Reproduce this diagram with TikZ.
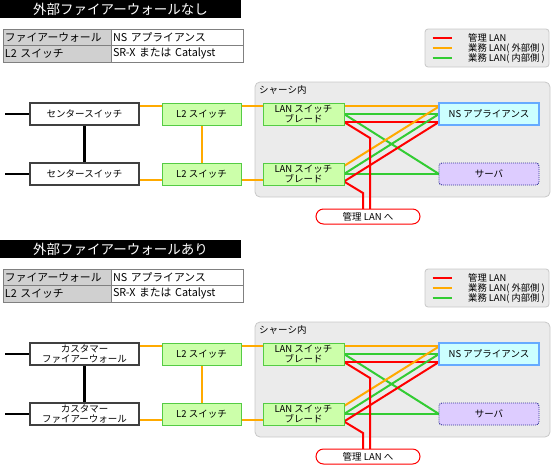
\documentclass[tikz,border=0pt]{standalone}
\usepackage{fontspec}
\setmainfont{Noto Sans CJK JP}
\usetikzlibrary{calc}
\pgfdeclarelayer{bg}
\pgfdeclarelayer{mid}
\pgfsetlayers{bg,mid,main}
\definecolor{lnorange}{HTML}{FFAA00}
\definecolor{lngreen}{HTML}{33CC33}
\definecolor{lnred}{HTML}{FF0000}
\definecolor{boxgreen}{HTML}{CCFFAA}
\definecolor{boxgreenb}{HTML}{55CC44}
\definecolor{chasfill}{HTML}{EBEBEB}
\definecolor{chasline}{HTML}{C8C8C8}
\definecolor{nsfill}{HTML}{CCFFFF}
\definecolor{nsline}{HTML}{66AAFF}
\definecolor{svfill}{HTML}{DDCCFF}
\definecolor{svline}{HTML}{333399}
\definecolor{cellgrey}{HTML}{D0D0D0}
\definecolor{cellline}{HTML}{808080}
\tikzset{
  fnt/.style={font=\fontsize{#1}{10}\selectfont},
  titlebar/.style={fill=black,text=white,minimum width=241pt,minimum height=18pt,inner sep=0pt,outer sep=0pt,fnt=13.5},
  cellL/.style={draw=cellline,fill=cellgrey,line width=0.8pt,text width=104pt,inner xsep=2pt,inner ysep=0pt,minimum height=16.5pt,align=left,outer sep=0pt,fnt=10.8},
  cellR/.style={draw=cellline,fill=white,line width=0.8pt,text width=128pt,inner xsep=2pt,inner ysep=0pt,minimum height=16.5pt,align=left,outer sep=0pt,fnt=10.8},
  legendbox/.style={draw=chasline,fill=chasfill,rounded corners=3pt,minimum width=124pt,minimum height=38pt,inner sep=0pt,line width=0.8pt},
  legtext/.style={anchor=west,inner sep=0pt,fnt=9.3},
  leftbox/.style={draw=black!75,fill=white,line width=1.3pt,minimum width=109pt,minimum height=22pt,inner sep=0pt,outer sep=0pt,align=center,fnt=9.5},
  greenbox/.style={draw=boxgreenb,fill=boxgreen,line width=1pt,minimum width=#1,minimum height=22pt,inner sep=0pt,outer sep=0pt,align=center,fnt=9.5},
  chassis/.style={draw=chasline,fill=chasfill,rounded corners=5pt,minimum width=295pt,minimum height=115pt,line width=0.8pt,inner sep=0pt},
  nsbox/.style={draw=nsline,fill=nsfill,line width=1.2pt,minimum width=100pt,minimum height=22pt,inner sep=0pt,outer sep=0pt,fnt=9.5},
  svbox/.style={draw=svline,fill=svfill,line width=0.9pt,dash pattern=on 1pt off 1pt,rounded corners=3pt,minimum width=100pt,minimum height=22pt,inner sep=0pt,outer sep=0pt,fnt=9.5},
  pill/.style={draw=lnred,fill=white,line width=1pt,rounded corners=7.5pt,minimum width=104pt,minimum height=15pt,inner sep=0pt,outer sep=0pt,fnt=9.5},
  oline/.style={draw=lnorange,line width=2pt},
  gline/.style={draw=lngreen,line width=2pt},
  rline/.style={draw=lnred,line width=2pt},
  kline/.style={draw=black,line width=2.4pt},
}
\newcommand\drawpart[4]{%
\begin{scope}[shift={(0,#2)}]
  \node[titlebar] (#1title) at (120.5,9) {#3};
  \node[cellL] (#1t11) at (57,37.25) {ファイアーウォール};
  \node[cellR] (#1t12) at (177,37.25) {NS アプライアンス};
  \node[cellL] (#1t21) at (57,53.75) {L2 スイッチ};
  \node[cellR] (#1t22) at (177,53.75) {SR-X または Catalyst};
  % legend
  \node[legendbox] (#1leg) at (487,48) {};
  \draw[rline] (432.5,38) -- (451.5,38);
  \draw[oline] (432.5,48) -- (451.5,48);
  \draw[gline] (432.5,58) -- (451.5,58);
  \node[legtext] (#1lg1) at (468,38) {管理 LAN};
  \node[legtext] (#1lg2) at (468,48) {業務 LAN( 外部側 )};
  \node[legtext] (#1lg3) at (468,58) {業務 LAN( 内部側 )};
  % chassis
  \begin{pgfonlayer}{bg}
    \node[chassis] (#1chas) at (402.5,139.5) {};
  \end{pgfonlayer}
  \node[anchor=west,inner sep=0pt,fnt=9.5] (#1chlab) at (259,90) {シャーシ内};
  % boxes
  \node[leftbox] (#1cs1) at (84.5,114) {#4};
  \node[leftbox] (#1cs2) at (84.5,174) {#4};
  \node[greenbox=79pt] (#1l2a) at (201.5,114) {L2 スイッチ};
  \node[greenbox=79pt] (#1l2b) at (201.5,174) {L2 スイッチ};
  \node[greenbox=81pt] (#1bla) at (303.5,114) {LAN スイッチ\\ブレード};
  \node[greenbox=81pt] (#1blb) at (303.5,174) {LAN スイッチ\\ブレード};
  \node[nsbox] (#1ns) at (489,114) {NS アプライアンス};
  \node[svbox] (#1sv) at (489,174) {サーバ};
  \node[pill] (#1pl) at (368,216.5) {管理 LAN へ};
  \coordinate (#1k1) at (370,138);
  \coordinate (#1k2) at (363,193);
  % connectors
  \begin{pgfonlayer}{mid}
    \draw[kline] (#1cs1.west) -- ++(-25,0) coordinate (#1e1);
    \draw[kline] (#1cs2.west) -- ++(-25,0) coordinate (#1e2);
    \draw[kline] (#1cs1.south) -- (#1cs2.north);
    \draw[oline] ([yshift=-3pt]#1cs1.north east) -- ([yshift=-3pt]#1l2a.north west);
    \draw[oline] ([yshift=5pt]#1cs2.south east) -- ([yshift=5pt]#1l2b.south west);
    \draw[oline] (#1l2a.south) -- (#1l2b.north);
    \draw[oline] ([yshift=-3pt]#1l2a.north east) -- ([yshift=-3pt]#1bla.north west);
    \draw[oline] ([yshift=5pt]#1l2b.south east) -- ([yshift=5pt]#1blb.south west);
    % inside chassis
    \draw[oline] ([yshift=-3pt]#1bla.north east) -- ([yshift=-3pt]#1ns.north west);
    \draw[gline] (#1bla.east) -- (#1ns.west);
    \draw[gline] (#1bla.east) -- (#1sv.west);
    \draw[rline] ([yshift=3pt]#1bla.south east) -- ([yshift=3pt]#1ns.south west);
    \draw[oline] ([yshift=-3pt]#1blb.north east) -- ([yshift=-3.5pt]#1ns.north west);
    \draw[gline] (#1blb.east) -- (#1ns.west);
    \draw[gline] (#1blb.east) -- (#1sv.west);
    \draw[rline] ([yshift=3.5pt]#1blb.south east) -- ([yshift=3pt]#1ns.south west);
    \draw[rline] ([yshift=3pt]#1bla.south east) -- (#1k1) -- (#1k1 |- #1pl.north);
    \draw[rline] ([yshift=3.5pt]#1blb.south east) -- (#1k2) -- (#1k2 |- #1pl.north);
  \end{pgfonlayer}
\end{scope}}
\begin{document}
\begin{tikzpicture}[x=1pt,y=-1pt]
  \useasboundingbox (0,0) rectangle (553,466);
  \drawpart{a}{0}{外部ファイアーウォールなし}{センタースイッチ}
  \drawpart{b}{240}{外部ファイアーウォールあり}{カスタマー\\ファイアーウォール}
\end{tikzpicture}
\end{document}
